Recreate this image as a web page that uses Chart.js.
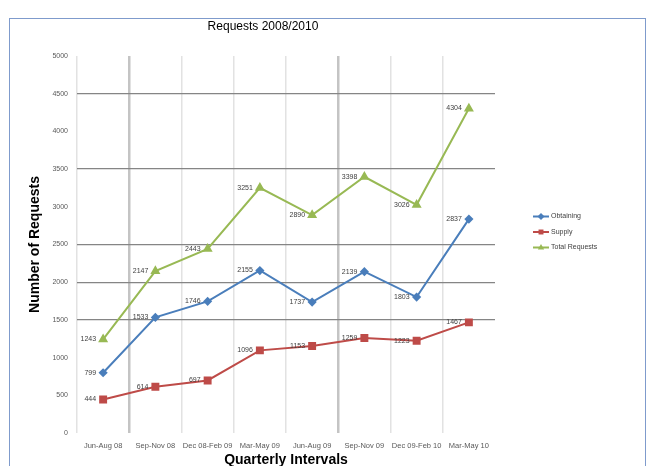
<!DOCTYPE html>
<html>
<head>
<meta charset="utf-8">
<script src="https://cdn.jsdelivr.net/npm/chart.js@4/dist/chart.umd.min.js"></script>
<style>
  body { margin: 0; background: #fff; overflow: hidden; }
  #wrap { position: relative; width: 650px; height: 466px; }
  #frame { position: absolute; left: 9px; top: 18px; width: 635px; height: 520px; border: 1px solid #7f9bcc; }
  canvas { position: absolute; left: 0; top: 0; }
</style>
</head>
<body>
<div id="wrap">
  <div id="frame"></div>
  <canvas id="chart" width="650" height="466"></canvas>
</div>
<script>
const chartTitle = 'Requests 2008/2010';
const quarters = ['Jun-Aug 08', 'Sep-Nov 08', 'Dec 08-Feb 09', 'Mar-May 09', 'Jun-Aug 09', 'Sep-Nov 09', 'Dec 09-Feb 10', 'Mar-May 10'];
const obtaining = [799, 1533, 1746, 2155, 1737, 2139, 1803, 2837];
const supply = [444, 614, 697, 1096, 1153, 1259, 1223, 1467];
const totalRequests = [1243, 2147, 2443, 3251, 2890, 3398, 3026, 4304];

const FONT = '"Liberation Sans", Arial, sans-serif';

// which vertical / horizontal gridlines show up in the picture
const vGridColors = ['#e2e2e2', '#c4c4c4', '#e2e2e2', '#e2e2e2', '#e2e2e2', '#c4c4c4', '#e2e2e2', '#e2e2e2', '#e2e2e2'];
const vGridWidths = [1.5, 2.5, 1.5, 1.5, 1.5, 2.5, 1.5, 1.5, 1.5];
const hGridColors = ['transparent', 'transparent', 'transparent', '#858585', '#858585', '#858585', 'transparent', '#858585', 'transparent', '#858585', 'transparent'];

function drawMarker(ctx, style, x, y, r, color) {
    ctx.save();
    ctx.fillStyle = color;
    ctx.beginPath();
    if (style === 'rect') {
        const s = r * Math.SQRT1_2;
        ctx.rect(x - s, y - s, 2 * s, 2 * s);
    } else if (style === 'rectRot') {
        ctx.moveTo(x, y - r); ctx.lineTo(x + r, y); ctx.lineTo(x, y + r); ctx.lineTo(x - r, y);
        ctx.closePath();
    } else {
        ctx.moveTo(x, y - r); ctx.lineTo(x + r * 0.9, y + r * 0.6); ctx.lineTo(x - r * 0.9, y + r * 0.6);
        ctx.closePath();
    }
    ctx.fill();
    ctx.restore();
}

const extras = {
    id: 'extras',
    afterDatasetsDraw(chart) {
        const ctx = chart.ctx;
        ctx.save();
        // point labels, left of each point
        ctx.font = '7px ' + FONT;
        ctx.fillStyle = '#404040';
        ctx.textAlign = 'right';
        ctx.textBaseline = 'middle';
        chart.data.datasets.forEach((ds, i) => {
            chart.getDatasetMeta(i).data.forEach((pt, j) => {
                ctx.fillText(ds.data[j], pt.x - 7, pt.y);
            });
        });
        // title
        ctx.font = '12px ' + FONT;
        ctx.fillStyle = '#000';
        ctx.textAlign = 'center';
        ctx.fillText(chartTitle, 263, 27);
        // legend
        ctx.font = '7px ' + FONT;
        ctx.textAlign = 'left';
        chart.data.datasets.forEach((ds, i) => {
            const y = 216.5 + i * 15.5;
            ctx.strokeStyle = ds.borderColor;
            ctx.lineWidth = 2;
            ctx.beginPath();
            ctx.moveTo(533, y); ctx.lineTo(549, y);
            ctx.stroke();
            drawMarker(ctx, ds.pointStyle, 541, y, 3.5, ds.borderColor);
            ctx.fillStyle = '#404040';
            ctx.fillText(ds.label, 551, y);
        });
        ctx.restore();
    }
};

const ctx = document.getElementById('chart').getContext('2d');
const chart = new Chart(ctx, {
    type: 'line',
    data: {
        labels: quarters,
        datasets: [
            { label: 'Obtaining', data: obtaining, borderColor: '#4a7ebb', backgroundColor: '#4a7ebb',
              pointStyle: 'rectRot', pointRadius: 3.2, borderWidth: 2, tension: 0 },
            { label: 'Supply', data: supply, borderColor: '#be4b48', backgroundColor: '#be4b48',
              pointStyle: 'rect', pointRadius: 4.2, borderWidth: 2, tension: 0 },
            { label: 'Total Requests', data: totalRequests, borderColor: '#98b954', backgroundColor: '#98b954',
              pointStyle: 'triangle', pointRadius: 3.8, borderWidth: 2, tension: 0 }
        ]
    },
    options: {
        responsive: false,
        animation: false,
        devicePixelRatio: 1,
        layout: { padding: { left: 27, top: 56, right: 155, bottom: 0 } },
        plugins: { legend: { display: false }, title: { display: false }, tooltip: { enabled: false } },
        scales: {
            x: {
                offset: true,
                grid: { offset: true, drawTicks: false, color: vGridColors, lineWidth: vGridWidths },
                border: { display: false },
                ticks: { padding: 8, maxRotation: 0, autoSkip: false, color: '#595959', font: { family: FONT, size: 7.5 } },
                title: { display: true, text: 'Quarterly Intervals', color: '#000',
                         font: { family: FONT, size: 14, weight: 'bold', lineHeight: 0.9 }, padding: 0 },
                afterFit(scale) { scale.height = 33; }
            },
            y: {
                min: 0, max: 5000,
                ticks: { stepSize: 500, padding: 9, color: '#595959', font: { family: FONT, size: 7 },
                         callback: v => String(v) },
                grid: { drawTicks: false, color: hGridColors, lineWidth: 1.3 },
                border: { display: false },
                title: { display: true, text: 'Number of Requests', color: '#000',
                         font: { family: FONT, size: 14, weight: 'bold' }, padding: 0 },
                afterFit(scale) { scale.width = 50; }
            }
        }
    },
    plugins: [extras]
});
</script>
</body>
</html>
